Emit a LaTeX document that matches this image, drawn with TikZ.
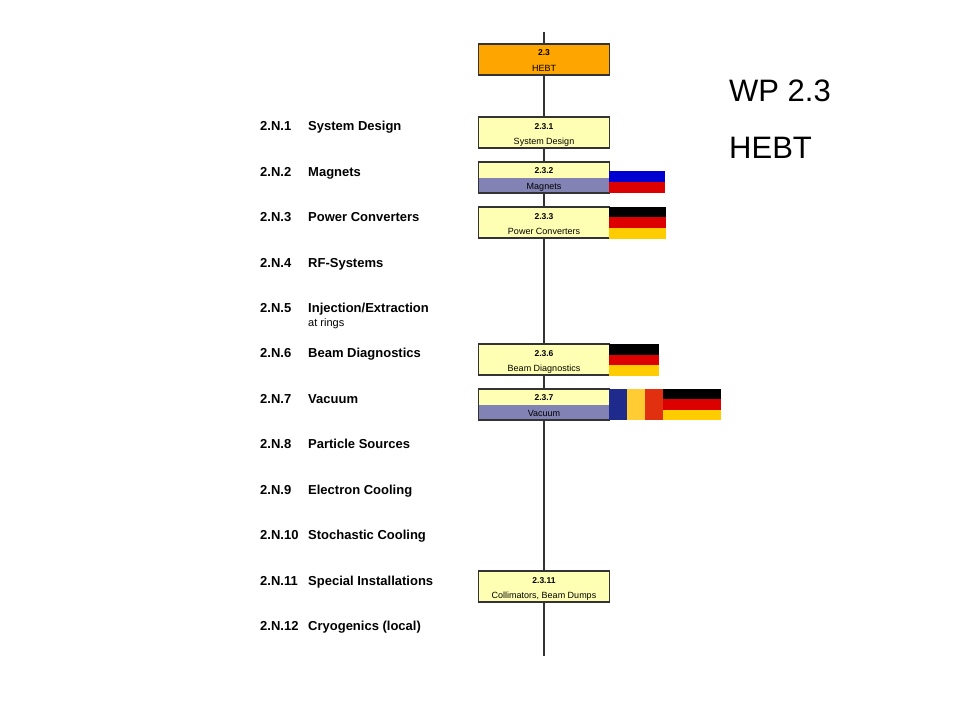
\documentclass[tikz,border=0pt]{standalone}
\usepackage{fontspec}
\setmainfont{Liberation Sans}
\usetikzlibrary{calc}
\definecolor{boxyellow}{HTML}{FFFFB3}
\definecolor{hebtorange}{HTML}{FFA500}
\definecolor{lav}{HTML}{8282B4}
\definecolor{flagblue}{HTML}{0000D0}
\definecolor{flagred}{HTML}{DD0000}
\definecolor{flaggold}{HTML}{FFCC00}
\definecolor{roblue}{HTML}{1E2A8C}
\definecolor{royellow}{HTML}{FFCC33}
\definecolor{rored}{HTML}{E0300F}
\definecolor{edge}{HTML}{333333}
\begin{document}
\begin{tikzpicture}[x=1pt,y=-1pt,
  wpbox/.style={draw=edge, line width=1.1pt, minimum width=131pt, minimum height=31pt, inner sep=0pt, fill=boxyellow},
  splitbox/.style={wpbox, path picture={\fill[lav] (path picture bounding box.west) rectangle (path picture bounding box.south east);}},
  numtxt/.style={font=\fontsize{8.5}{10}\selectfont\bfseries, inner sep=0pt, anchor=base},
  nametxt/.style={font=\fontsize{9}{10}\selectfont, inner sep=0pt, anchor=base},
  rownum/.style={font=\fontsize{13}{15}\selectfont\bfseries, anchor=base west, inner sep=0pt},
  rowname/.style={font=\fontsize{13}{15}\selectfont\bfseries, anchor=base west, inner sep=0pt},
  subname/.style={font=\fontsize{11}{13}\selectfont, anchor=base west, inner sep=0pt},
  bigtxt/.style={font=\fontsize{31}{35}\selectfont, anchor=base west, inner sep=0pt},
  spine/.style={draw=edge, line width=1.4pt}]
\useasboundingbox[fill=white] (0,0) rectangle (960,720);

% spine end points
\coordinate (ltop) at (544,32);
\coordinate (lbot) at (544,656);

% boxes
\node[wpbox, fill=hebtorange] (hebt) at (544,59.5) {};
\node[wpbox] (b1) at (544,132.5) {};
\node[splitbox] (b2) at (544,177.5) {};
\node[wpbox] (b3) at (544,222.5) {};
\node[wpbox] (b6) at (544,359.5) {};
\node[splitbox] (b7) at (544,404.5) {};
\node[wpbox] (b11) at (544,586.5) {};

% spine segments
\draw[spine] (ltop) -- (hebt.north);
\draw[spine] (hebt.south) -- (b1.north);
\draw[spine] (b1.south) -- (b2.north);
\draw[spine] (b2.south) -- (b3.north);
\draw[spine] (b3.south) -- (b6.north);
\draw[spine] (b6.south) -- (b7.north);
\draw[spine] (b7.south) -- (b11.north);
\draw[spine] (b11.south) -- (lbot);

% box texts
\node[numtxt] (hebtn) at ($(hebt.north)+(0,12.5)$) {2.3};
\node[nametxt] (hebtt) at ($(hebt.north)+(0,28)$) {HEBT};
\node[numtxt] (b1n) at ($(b1.north)+(0,13)$) {2.3.1};
\node[nametxt] (b1t) at ($(b1.north)+(0,28)$) {System Design};
\node[numtxt] (b2n) at ($(b2.north)+(0,12.5)$) {2.3.2};
\node[nametxt] (b2t) at ($(b2.north)+(0,28)$) {Magnets};
\node[numtxt] (b3n) at ($(b3.north)+(0,13)$) {2.3.3};
\node[nametxt] (b3t) at ($(b3.north)+(0,28)$) {Power Converters};
\node[numtxt] (b6n) at ($(b6.north)+(0,13)$) {2.3.6};
\node[nametxt] (b6t) at ($(b6.north)+(0,28)$) {Beam Diagnostics};
\node[numtxt] (b7n) at ($(b7.north)+(0,12.5)$) {2.3.7};
\node[nametxt] (b7t) at ($(b7.north)+(0,28)$) {Vacuum};
\node[numtxt] (b11n) at ($(b11.north)+(0,13)$) {2.3.11};
\node[nametxt] (b11t) at ($(b11.north)+(0,28)$) {Collimators, Beam Dumps};

% flags
\fill[flagblue] (609,171) rectangle (665,182);
\fill[flagred] (609,182) rectangle (665,193);

\fill[black] (609,207) rectangle (666,217);
\fill[flagred] (609,217) rectangle (666,227.5);
\fill[flaggold] (609,227.5) rectangle (666,238.5);

\fill[black] (609,344) rectangle (659,354.5);
\fill[flagred] (609,354.5) rectangle (659,365);
\fill[flaggold] (609,365) rectangle (659,375.5);

\fill[roblue] (609,389) rectangle (627,420);
\fill[royellow] (627,389) rectangle (645,420);
\fill[rored] (645,389) rectangle (663,420);
\fill[black] (663,389) rectangle (721,399);
\fill[flagred] (663,399) rectangle (721,409.5);
\fill[flaggold] (663,409.5) rectangle (721,420);

% row labels
\foreach \i/\lab in {1/{System Design},2/{Magnets},3/{Power Converters},4/{RF-Systems},5/{Injection/Extraction},6/{Beam Diagnostics},7/{Vacuum},8/{Particle Sources},9/{Electron Cooling},10/{Stochastic Cooling},11/{Special Installations},12/{Cryogenics (local)}}{
  \pgfmathsetmacro{\yy}{126+45.45*(\i-1)+4.7}
  \node[rownum] (rn\i) at (260,\yy) {2.N.\i};
  \node[rowname] (rl\i) at (308,\yy) {\lab};
}
\node[subname] (rs5) at (308,326) {at rings};

% title
\node[bigtxt] (wp) at (729,101.5) {WP 2.3};
\node[bigtxt] (wph) at (729,158.5) {HEBT};
\end{tikzpicture}
\end{document}
